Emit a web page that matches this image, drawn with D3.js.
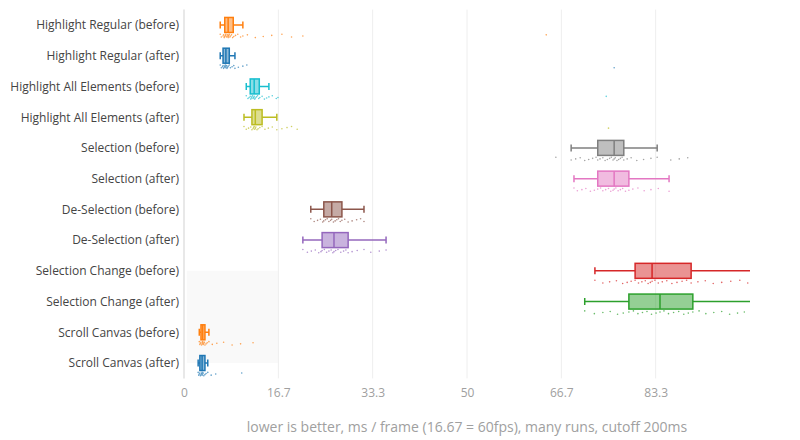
<!DOCTYPE html>
<html>
<head>
<meta charset="utf-8">
<script src="https://cdn.jsdelivr.net/npm/d3@7"></script>
<style>
  html, body { margin: 0; padding: 0; background: #fff; }
  svg { display: block; font-family: "Open Sans", "Noto Sans", sans-serif; }
</style>
</head>
<body>
<svg id="chart" width="800" height="440"></svg>
<script>
// ---------- data ----------
const categories = [
  "Highlight Regular (before)", "Highlight Regular (after)",
  "Highlight All Elements (before)", "Highlight All Elements (after)",
  "Selection (before)", "Selection (after)",
  "De-Selection (before)", "De-Selection (after)",
  "Selection Change (before)", "Selection Change (after)",
  "Scroll Canvas (before)", "Scroll Canvas (after)"
];
const colors = [
  "#ff7f0e", "#1f77b4", "#17becf", "#bcbd22", "#7f7f7f", "#e377c2",
  "#8c564b", "#9467bd", "#d62728", "#2ca02c", "#ff7f0e", "#1f77b4"
];
const whiskerLow  = [6.4, 6.4, 11.0, 10.6, 68.4, 68.9, 22.4, 21.0, 72.6, 70.8, 2.7, 2.5];
const q1          = [7.2, 6.9, 11.7, 12.0, 73.1, 73.1, 24.7, 24.4, 79.7, 78.6, 3.0, 2.8];
const median      = [7.8, 7.4, 12.4, 12.6, 76.0, 76.0, 26.1, 26.5, 82.7, 84.1, 3.3, 3.2];
const q3          = [8.7, 8.0, 13.3, 13.8, 77.7, 78.6, 27.9, 29.0, 89.6, 89.9, 3.7, 3.7];
const whiskerHigh = [10.4, 9.0, 15.0, 16.4, 83.6, 85.7, 31.8, 35.7, 104, 106, 4.4, 4.2];
const samples = [
  [6.4,6.6,6.9,7.0,7.1,7.2,7.3,7.4,7.5,7.6,7.7,7.8,7.8,7.9,8.0,8.1,8.2,8.4,8.6,8.8,9.1,9.5,10.0,10.4,11.2,12.6,14.0,15.5,17.3,19.0,21.0,64.0],
  [6.4,6.6,6.8,6.9,7.0,7.1,7.2,7.3,7.4,7.4,7.5,7.6,7.7,7.8,8.0,8.2,8.5,8.8,9.0,9.6,10.4,11.1,76.0],
  [11.0,11.3,11.5,11.7,11.8,11.9,12.0,12.1,12.2,12.3,12.4,12.5,12.6,12.8,13.0,13.2,13.4,13.8,14.2,14.6,15.0,15.6,16.3,16.6,74.6],
  [10.6,11.0,11.4,11.8,12.0,12.2,12.3,12.4,12.5,12.6,12.7,12.9,13.1,13.4,13.8,14.3,14.9,15.6,16.4,17.3,18.2,19.0,20.0,75.0],
  [65.7,68.4,69.2,70.0,70.8,71.5,72.2,72.8,73.1,73.5,74.0,74.4,74.8,75.2,75.5,75.8,76.0,76.2,76.5,76.8,77.1,77.4,77.7,78.3,79.0,80.0,81.2,82.5,83.6,86.0,87.5,89.0],
  [68.9,69.5,70.3,71.0,71.8,72.5,73.1,73.6,74.0,74.5,75.0,75.4,75.8,76.0,76.3,76.7,77.1,77.5,78.0,78.6,79.3,80.2,81.3,82.5,83.8,85.7],
  [22.4,23.0,23.6,24.1,24.5,24.7,25.0,25.3,25.6,25.9,26.1,26.4,26.7,27.0,27.3,27.6,27.9,28.4,29.0,29.7,30.5,31.2,31.8],
  [21.0,21.8,22.5,23.2,23.8,24.2,24.4,24.8,25.2,25.6,26.0,26.3,26.5,26.8,27.2,27.7,28.2,28.6,29.0,29.7,30.6,31.8,33.0,34.5,35.7],
  [72.6,74.0,75.2,76.4,77.5,78.3,79.0,79.7,80.3,80.9,81.5,82.0,82.4,82.7,83.2,83.8,84.5,85.3,86.2,87.1,88.0,88.8,89.6,90.8,92.1,93.5,95.0,96.6,98.2,99.6],
  [70.8,72.5,74.0,75.3,76.6,77.6,78.6,79.4,80.2,81.0,81.8,82.6,83.4,84.1,84.8,85.6,86.5,87.4,88.3,89.1,89.9,91.0,92.2,93.6,95.0,96.4,97.8,99.0],
  [2.7,2.8,2.9,3.0,3.1,3.2,3.3,3.3,3.4,3.5,3.6,3.7,3.9,4.1,4.4,5.0,5.8,7.0,8.5,10.0,12.2],
  [2.5,2.6,2.7,2.8,2.9,3.0,3.1,3.2,3.2,3.3,3.4,3.5,3.7,3.9,4.2,4.8,5.6,10.2]
];
const tickValues = [0, 16.67, 33.33, 50, 66.67, 83.33];
const tickLabels = ["0", "16.7", "33.3", "50", "66.7", "83.3"];
const xTitle = "lower is better, ms / frame (16.67 = 60fps), many runs, cutoff 200ms";
// highlighted region (x range, first/last category)
const shadeX = [0.5, 16.67];
const shadeCats = ["Selection Change (before)", "Scroll Canvas (after)"];

// ---------- layout ----------
const W = 800, H = 440;
const m = { left: 184, right: 50, top: 9.6, bottom: 61.6 };
const svg = d3.select("#chart");

const x = d3.scaleLinear().domain([0, 100]).range([m.left, W - m.right]);
const y = d3.scalePoint().domain(categories).range([m.top, H - m.bottom]).padding(0.5);
const boxH = 15, capH = 7, ptOff = 11;

svg.append("defs").append("clipPath").attr("id", "clip")
  .append("rect").attr("x", m.left).attr("y", m.top)
  .attr("width", W - m.right - m.left).attr("height", H - m.bottom - m.top);

// shaded region
svg.append("rect")
  .attr("x", x(shadeX[0])).attr("width", x(shadeX[1]) - x(shadeX[0]))
  .attr("y", y(shadeCats[0])).attr("height", y(shadeCats[1]) - y(shadeCats[0]))
  .attr("fill", "#f9f9f9");

// grid
svg.append("g").selectAll("line").data(tickValues).join("line")
  .attr("x1", d => x(d)).attr("x2", d => x(d))
  .attr("y1", m.top).attr("y2", H - m.bottom)
  .attr("stroke", (d, i) => i === 0 ? "#e0e0e0" : "#eeeeee")
  .attr("stroke-width", (d, i) => i === 0 ? 1.5 : 1);

// x axis
const xAxis = d3.axisBottom(x).tickValues(tickValues)
  .tickFormat((d, i) => tickLabels[i]).tickSize(0).tickPadding(0);
const gx = svg.append("g").attr("transform", `translate(0,${H - m.bottom})`).call(xAxis);
gx.select(".domain").remove();
gx.selectAll("text").attr("fill", "#a0a0a0").attr("font-size", 12)
  .attr("font-family", "Open Sans").attr("dy", "19px");

// y labels
const yAxis = d3.axisLeft(y).tickSize(0).tickPadding(0);
const gy = svg.append("g").attr("transform", `translate(${m.left - 5},0)`).call(yAxis);
gy.select(".domain").remove();
gy.selectAll("text").attr("fill", "#444").attr("font-size", 12)
  .attr("font-family", "Open Sans");

// title
svg.append("text")
  .attr("x", (x.range()[0] + x.range()[1]) / 2).attr("y", 432)
  .attr("text-anchor", "middle").attr("font-size", 14)
  .attr("fill", "#a0a0a0").attr("font-family", "Open Sans")
  .text(xTitle);

// boxes
const plot = svg.append("g").attr("clip-path", "url(#clip)");
categories.forEach((cat, i) => {
  const cy = y(cat), c = colors[i];
  const g = plot.append("g");
  // points
  g.selectAll("circle").data(samples[i]).join("circle")
    .attr("cx", d => x(d))
    .attr("cy", (d, j) => cy + ptOff + (((j * 5) % 7) - 3) * 0.55)
    .attr("r", 0.8).attr("fill", c).attr("opacity", 0.7);
  // whiskers
  g.append("line").attr("x1", x(whiskerLow[i])).attr("x2", x(q1[i]))
    .attr("y1", cy).attr("y2", cy).attr("stroke", c).attr("stroke-width", 1.5);
  g.append("line").attr("x1", x(q3[i])).attr("x2", x(whiskerHigh[i]))
    .attr("y1", cy).attr("y2", cy).attr("stroke", c).attr("stroke-width", 1.5);
  [whiskerLow[i], whiskerHigh[i]].forEach(v => {
    g.append("line").attr("x1", x(v)).attr("x2", x(v))
      .attr("y1", cy - capH / 2).attr("y2", cy + capH / 2)
      .attr("stroke", c).attr("stroke-width", 1.5);
  });
  // box
  g.append("rect").attr("x", x(q1[i])).attr("width", x(q3[i]) - x(q1[i]))
    .attr("y", cy - boxH / 2).attr("height", boxH)
    .attr("fill", c).attr("fill-opacity", 0.5)
    .attr("stroke", c).attr("stroke-width", 1.5);
  // median
  g.append("line").attr("x1", x(median[i])).attr("x2", x(median[i]))
    .attr("y1", cy - boxH / 2).attr("y2", cy + boxH / 2)
    .attr("stroke", c).attr("stroke-width", 1.5);
});
</script>
</body>
</html>
